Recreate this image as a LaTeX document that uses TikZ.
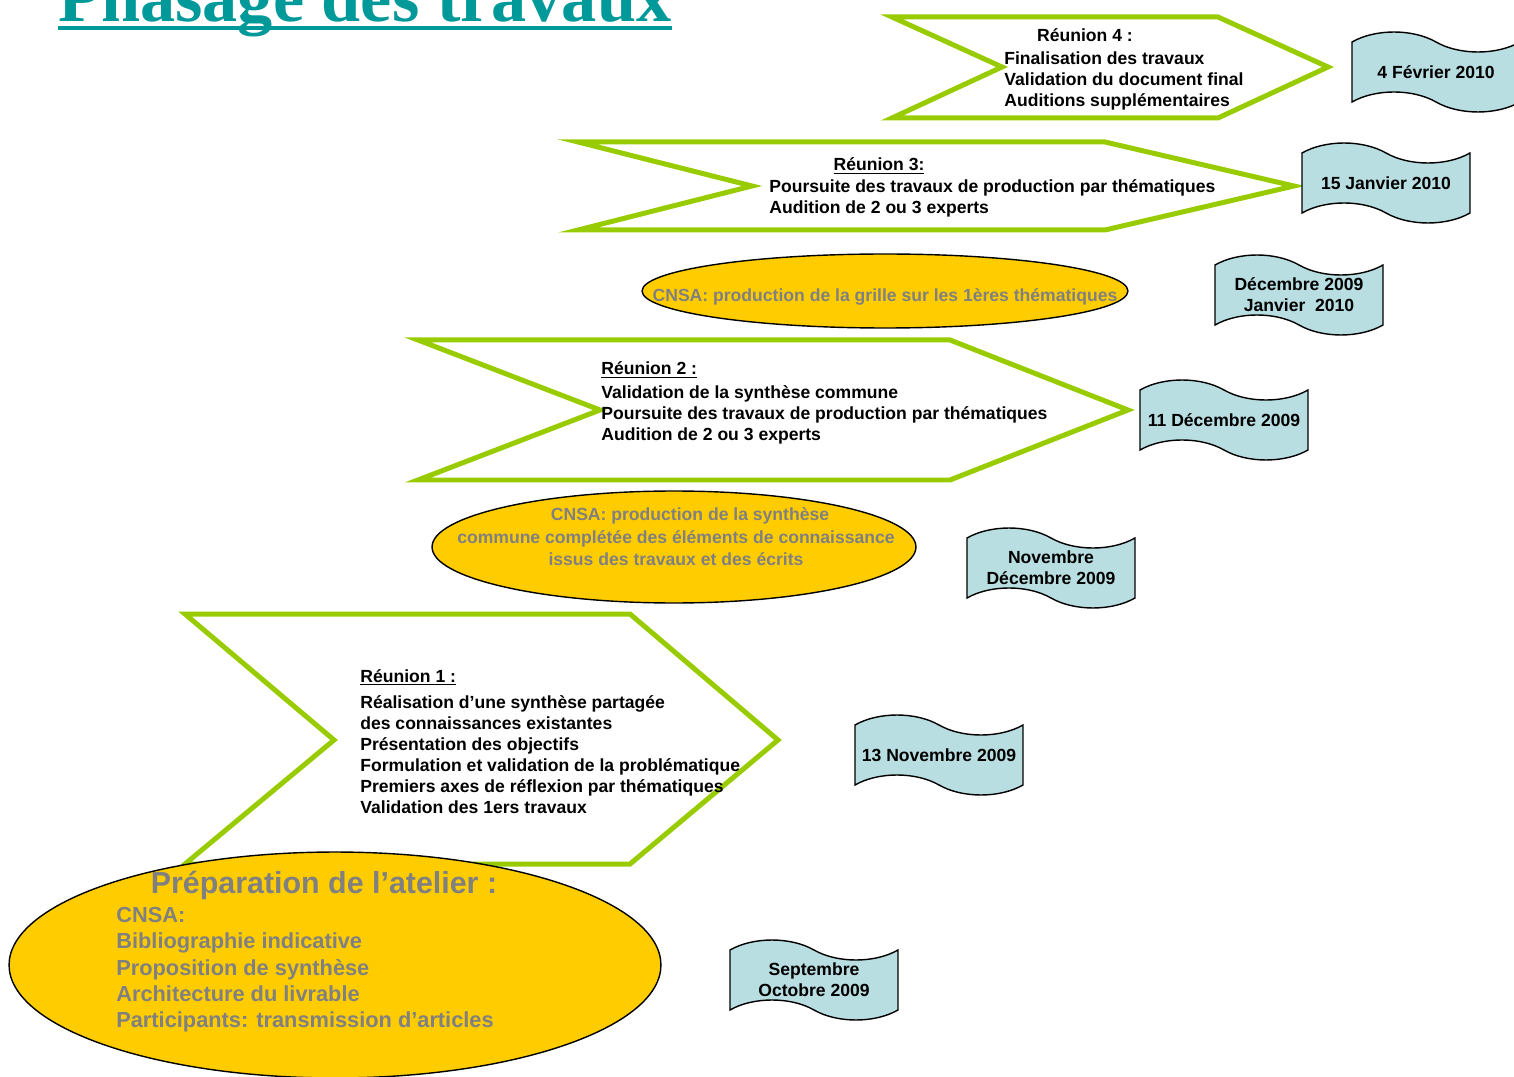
\documentclass[tikz,border=0pt]{standalone}
\usepackage{fontspec}
\setmainfont{Liberation Sans}
\newfontfamily\titlefont{Liberation Serif}
\usetikzlibrary{shapes.geometric,shapes.symbols}
\definecolor{ppgreen}{RGB}{153,204,0}
\definecolor{ppyellow}{RGB}{255,204,0}
\definecolor{flagblue}{RGB}{185,222,226}
\definecolor{ppteal}{RGB}{0,153,153}
\definecolor{cnsagray}{RGB}{128,128,128}
\tikzstyle{chevron}=[draw=ppgreen,line width=0.1cm,line join=miter]
\tikzstyle{datebox}=[tape,draw=black,fill=flagblue,line width=0.8pt,minimum width=3.36cm,minimum height=1.6cm,tape bend top=out and in,tape bend bottom=out and in,tape bend height=0.4cm,inner sep=0pt,align=center,font=\bfseries\fontsize{10pt}{12pt}\selectfont]
\tikzstyle{cnsa}=[ellipse,draw=black,fill=ppyellow,line width=0.8pt,inner sep=0pt]
\tikzstyle{graytext}=[text=cnsagray,inner sep=0pt,align=center,font=\bfseries\fontsize{10pt}{12.8pt}\selectfont]
\tikzstyle{heading}=[inner sep=0pt,font=\bfseries\fontsize{10pt}{12pt}\selectfont]
\tikzstyle{bodytext}=[anchor=north west,inner sep=0pt,align=left,font=\bfseries\fontsize{10pt}{12pt}\selectfont]

\begin{document}
\begin{tikzpicture}[x=0.02cm,y=-0.02cm]
    \useasboundingbox (0,0) rectangle (1514,1077);

    \node (title) at (58,22) [anchor=base west,inner sep=0pt,text=ppteal,font=\titlefont\bfseries\fontsize{40pt}{48pt}\selectfont] {Phasage des travaux};
    \draw [ppteal,line width=0.09cm] ([yshift=-0.12cm]title.base west) -- ([yshift=-0.12cm]title.base east);

    % reunion 4
    \draw [chevron] (892,17) -- (1218,17) -- (1328,67) -- (1218,118) -- (892,118) -- (1002,67) -- cycle;
    \node (r4title) at (1085,42) [heading,anchor=base] {Réunion 4 :};
    \node (r4text) at (1004,51) [bodytext] {Finalisation des travaux\\Validation du document final\\Auditions supplémentaires};
    \node (feb) at (1436,72) [datebox] {4 Février 2010};

    % reunion 3
    \draw [chevron] (578,142) -- (1105,142) -- (1294,186) -- (1105,230) -- (578,230) -- (752,186) -- cycle;
    \node (r3title) at (879,171) [heading,anchor=base] {\underline{Réunion 3:}};
    \node (r3text) at (769,179) [bodytext] {Poursuite des travaux de production par thématiques\\Audition de 2 ou 3 experts};
    \node (jan) at (1386,183) [datebox] {15 Janvier 2010};

    \node (grille) at (885,291) [cnsa,minimum width=9.72cm,minimum height=1.48cm] {};
    \node (grilletext) at (885,297) [graytext] {CNSA: production de la grille sur les 1ères thématiques};
    \node (decjan) at (1299,295) [datebox] {Décembre 2009\\Janvier~~2010};

    % reunion 2
    \draw [chevron] (418,340) -- (950,340) -- (1128,410) -- (950,480) -- (418,480) -- (600,410) -- cycle;
    \node (r2title) at (601,375) [heading,anchor=base west] {\underline{Réunion 2 :}};
    \node (r2text) at (601,385) [bodytext] {Validation de la synthèse commune\\Poursuite des travaux de production par thématiques\\Audition de 2 ou 3 experts};
    \node (dec) at (1224,420) [datebox] {11 Décembre 2009};

    \node (synthese) at (674,547) [cnsa,minimum width=9.68cm,minimum height=2.24cm] {};
    \node (synthesetext) at (676,537) [graytext] {\hspace*{0.56cm}CNSA: production de la synthèse\\commune complétée des éléments de connaissance\\issus des travaux et des écrits};
    \node (novdec) at (1051,568) [datebox] {Novembre\\Décembre 2009};

    % reunion 1
    \draw [chevron] (185,614) -- (630,614) -- (778,740) -- (630,864) -- (185,864) -- (334,740) -- cycle;
    \node (r1title) at (360,682) [heading,anchor=base west] {\underline{Réunion 1 :}};
    \node (r1text) at (360,695) [bodytext] {Réalisation d’une synthèse partagée\\des connaissances existantes\\Présentation des objectifs\\Formulation et validation de la problématique\\Premiers axes de réflexion par thématiques\\Validation des 1ers travaux};
    \node (nov) at (939,755) [datebox] {13 Novembre 2009};

    % preparation
    \node (prep) at (335,965) [cnsa,minimum width=13.04cm,minimum height=4.52cm] {};
    \node (preptitle) at (324,886) [graytext,font=\bfseries\fontsize{17.3pt}{20pt}\selectfont] {Préparation de l’atelier :};
    \node (preptext) at (116,907) [bodytext,text=cnsagray,font=\bfseries\fontsize{12.4pt}{15pt}\selectfont] {CNSA:\\Bibliographie indicative\\Proposition de synthèse\\Architecture du livrable\\Participants: transmission d’articles};
    \node (sepoct) at (814,980) [datebox] {Septembre\\Octobre 2009};
\end{tikzpicture}
\end{document}
